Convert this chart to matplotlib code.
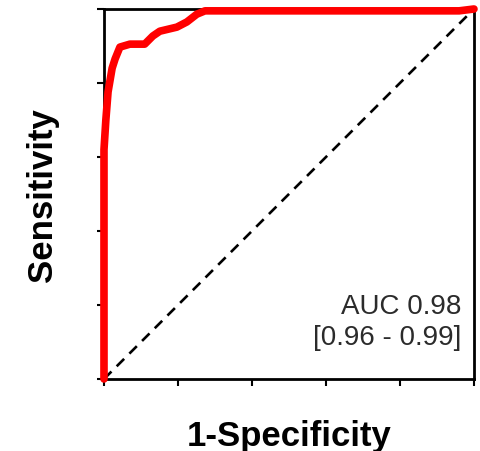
import matplotlib
matplotlib.use("Agg")
import matplotlib.pyplot as plt

plt.rcParams['font.family'] = ['Liberation Sans', 'DejaVu Sans']

# ROC curve points (false positive rate, true positive rate)
fpr = [0.0, 0.0, 0.005, 0.011, 0.022, 0.030, 0.043, 0.070, 0.110, 0.132,
       0.151, 0.197, 0.224, 0.251, 0.273, 0.960, 1.0]
tpr = [0.0, 0.62, 0.70, 0.776, 0.84, 0.865, 0.897, 0.905, 0.905, 0.927,
       0.940, 0.951, 0.965, 0.986, 0.995, 0.995, 1.0]
auc_text = "AUC 0.98\n[0.96 - 0.99]"
ticks = [0.0, 0.2, 0.4, 0.6, 0.8, 1.0]

fig = plt.figure(figsize=(4.81, 4.52), dpi=100)
ax = fig.add_axes([0.2162, 0.1593, 0.7692, 0.8186])

ax.plot([0, 1], [0, 1], linestyle=(0, (4, 2.8)), color='black', lw=1.9)
ax.plot(fpr, tpr, color='red', lw=5.5, clip_on=False, zorder=5,
        solid_capstyle='round')

ax.set_xlim(0, 1)
ax.set_ylim(0, 1)
ax.set_xticks(ticks)
ax.set_yticks(ticks)
ax.set_xticklabels([])
ax.set_yticklabels([])
ax.tick_params(direction='out', length=5, width=1.5, color='black')
for s in ax.spines.values():
    s.set_linewidth(2)
    s.set_color('black')

ax.set_xlabel('1-Specificity', fontsize=25, fontweight='bold', labelpad=20)
ax.set_ylabel('Sensitivity', fontsize=25, fontweight='bold', labelpad=24)

ax.text(0.965, 0.155, auc_text, transform=ax.transAxes, ha='right',
        va='center', fontsize=20, color='#2b2b2b', linespacing=1.25)

fig.savefig('out.png', dpi=100)
